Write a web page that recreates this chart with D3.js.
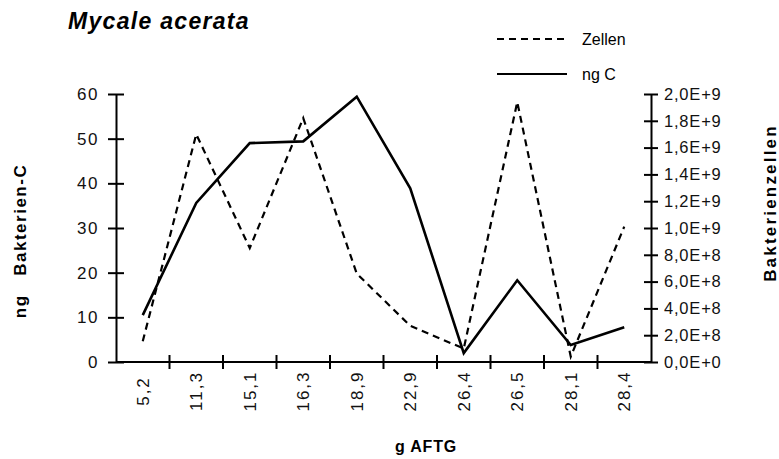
<!DOCTYPE html>
<html>
<head>
<meta charset="utf-8">
<script src="https://cdn.jsdelivr.net/npm/d3@7"></script>
<style>
  body { margin: 0; background: #fff; }
  svg { font-family: "Liberation Sans", Arial, sans-serif; }
</style>
</head>
<body>
<script>
// categories (g AFTG) and the two series
let categories = ["5,2", "11,3", "15,1", "16,3", "18,9", "22,9", "26,4", "26,5", "28,1", "28,4"];
let ngC = [10.5, 35.6, 49.0, 49.4, 59.4, 38.9, 2.0, 18.3, 3.8, 7.8];
let zellen = [1.55e8, 1.70e9, 0.85e9, 1.82e9, 0.66e9, 0.27e9, 0.10e9, 1.94e9, 0.04e9, 1.01e9];
let leftTicks = [0, 10, 20, 30, 40, 50, 60];
let rightTicks = [0, 2e8, 4e8, 6e8, 8e8, 1e9, 1.2e9, 1.4e9, 1.6e9, 1.8e9, 2e9];

let W = 779, H = 459;
let plotLeft = 116, plotRight = 651, plotTop = 94, plotBottom = 362;

let svg = d3.select("body").append("svg")
    .attr("width", W)
    .attr("height", H);

// scales
let xBand = d3.scaleBand().domain(categories).range([plotLeft, plotRight]);
let yLeft = d3.scaleLinear().domain([0, 60]).range([plotBottom, plotTop]);
let yRight = d3.scaleLinear().domain([0, 2e9]).range([plotBottom, plotTop]);
let cx = function(c) { return xBand(c) + xBand.bandwidth() / 2; };

// "2,0E+9" style labels
let fmtE = function(v) {
  return d3.format(".1e")(v).replace(".", ",").replace("e", "E");
};

// left axis
let gL = svg.append("g")
    .attr("transform", "translate(" + plotLeft + ",0)")
    .call(d3.axisLeft(yLeft).tickValues(leftTicks).tickSize(8).tickSizeOuter(0).tickPadding(9));
gL.selectAll(".tick line").attr("x2", 8).attr("x1", -8);
gL.selectAll(".tick text")
    .attr("font-size", 17).attr("letter-spacing", 1.5)
    .attr("fill", "#111").attr("font-family", "Liberation Sans, Arial");

// right axis
let gR = svg.append("g")
    .attr("transform", "translate(" + plotRight + ",0)")
    .call(d3.axisRight(yRight).tickValues(rightTicks).tickFormat(fmtE).tickSize(7).tickSizeOuter(0).tickPadding(6));
gR.selectAll(".tick line").attr("x1", -7).attr("x2", 7);
gR.selectAll(".tick text")
    .attr("font-size", 16.5).attr("letter-spacing", 0.8)
    .attr("fill", "#111").attr("font-family", "Liberation Sans, Arial");

svg.selectAll(".domain").attr("stroke", "#000").attr("stroke-width", 2);
svg.selectAll(".tick line").attr("stroke", "#000").attr("stroke-width", 2);

// x axis: line, ticks between categories, rotated labels
svg.append("line")
    .attr("x1", plotLeft).attr("x2", plotRight)
    .attr("y1", plotBottom).attr("y2", plotBottom)
    .attr("stroke", "#000").attr("stroke-width", 2);

svg.selectAll(".xtick")
    .data(categories.slice(1))
  .enter().append("line")
    .attr("class", "xtick")
    .attr("x1", function(d) { return xBand(d); })
    .attr("x2", function(d) { return xBand(d); })
    .attr("y1", plotBottom - 7).attr("y2", plotBottom + 7)
    .attr("stroke", "#000").attr("stroke-width", 2);

svg.selectAll(".xlab")
    .data(categories)
  .enter().append("text")
    .attr("class", "xlab")
    .attr("transform", function(d) { return "translate(" + (cx(d) + 6) + "," + 391 + ") rotate(-90)"; })
    .attr("text-anchor", "middle")
    .attr("font-size", 17)
    .attr("letter-spacing", 2)
    .attr("fill", "#111")
    .text(function(d) { return d; });

// lines
let lineC = d3.line()
    .x(function(d, i) { return cx(categories[i]); })
    .y(function(d) { return yLeft(d); });
let lineZ = d3.line()
    .x(function(d, i) { return cx(categories[i]); })
    .y(function(d) { return yRight(d); });

svg.append("path")
    .datum(zellen)
    .attr("d", lineZ)
    .attr("fill", "none")
    .attr("stroke", "#000")
    .attr("stroke-width", 2.2)
    .attr("stroke-dasharray", "7,5");

svg.append("path")
    .datum(ngC)
    .attr("d", lineC)
    .attr("fill", "none")
    .attr("stroke", "#000")
    .attr("stroke-width", 2.6)
    .attr("stroke-linejoin", "miter");

// title
svg.append("text")
    .attr("x", 68).attr("y", 29)
    .attr("font-size", 23)
    .attr("font-weight", "bold")
    .attr("font-style", "italic")
    .attr("letter-spacing", 1.3)
    .text("Mycale acerata");

// legend
svg.append("line")
    .attr("x1", 497).attr("x2", 567).attr("y1", 39).attr("y2", 39)
    .attr("stroke", "#000").attr("stroke-width", 2)
    .attr("stroke-dasharray", "7,5");
svg.append("text")
    .attr("x", 582).attr("y", 45)
    .attr("font-size", 16)
    .text("Zellen");
svg.append("line")
    .attr("x1", 497).attr("x2", 567).attr("y1", 74).attr("y2", 74)
    .attr("stroke", "#000").attr("stroke-width", 2);
svg.append("text")
    .attr("x", 582).attr("y", 80)
    .attr("font-size", 16)
    .text("ng C");

// axis titles
svg.append("text")
    .attr("transform", "translate(26,241) rotate(-90)")
    .attr("text-anchor", "middle")
    .attr("font-size", 17)
    .attr("font-weight", "bold")
    .attr("letter-spacing", 1.5)
    .style("white-space", "pre")
    .text("ng   Bakterien-C");

svg.append("text")
    .attr("transform", "translate(776,203) rotate(-90)")
    .attr("text-anchor", "middle")
    .attr("font-size", 17)
    .attr("font-weight", "bold")
    .attr("letter-spacing", 2.2)
    .text("Bakterienzellen");

svg.append("text")
    .attr("x", 426).attr("y", 452)
    .attr("text-anchor", "middle")
    .attr("font-size", 16)
    .attr("font-weight", "bold")
    .attr("letter-spacing", 0.8)
    .text("g AFTG");
</script>
</body>
</html>
